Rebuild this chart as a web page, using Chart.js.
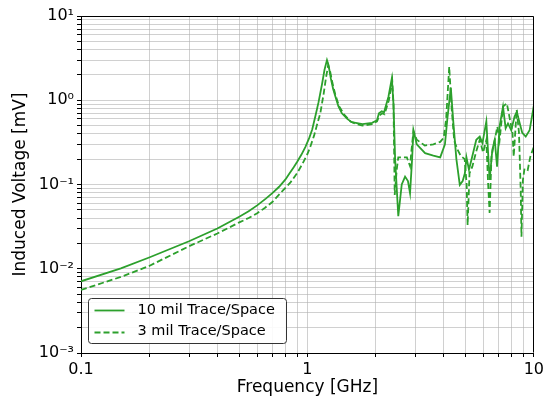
<!DOCTYPE html>
<html>
<head>
<meta charset="utf-8">
<script src="https://cdn.jsdelivr.net/npm/chart.js@4.4.1/dist/chart.umd.min.js"></script>
<style>
html,body{margin:0;padding:0;background:#fff;}
canvas{display:block;}
</style>
</head>
<body>
<canvas id="c" width="547" height="401"></canvas>
<script>
// ---- data ----
const seriesLabels = ['10 mil Trace/Space', '3 mil Trace/Space'];

const freqSolid = [0.1,0.15,0.2,0.3,0.4,0.5,0.55,0.6,0.655,0.7,0.75,0.8,0.83,0.87,0.9,0.94,0.98,1.02,1.05,1.086,1.12,1.16,1.19,1.22,1.24,1.27,1.30,1.33,1.37,1.42,1.5,1.57,1.75,1.93,2.03,2.07,2.13,2.18,2.28,2.36,2.40,2.44,2.52,2.61,2.70,2.78,2.84,2.90,2.94,3.04,3.31,3.6,3.86,4.05,4.15,4.3,4.41,4.55,4.71,4.85,4.96,5.04,5.17,5.30,5.57,5.77,5.93,6.17,6.38,6.56,6.72,6.88,7.06,7.31,7.51,7.69,7.95,8.22,8.42,8.51,8.89,9.21,9.58,10];
const voltSolid = [0.0071,0.0101,0.0136,0.0212,0.0300,0.0415,0.048,0.0565,0.068,0.079,0.094,0.115,0.133,0.16,0.185,0.225,0.28,0.36,0.45,0.66,0.95,1.55,2.3,3.0,2.6,1.8,1.35,1.1,0.85,0.70,0.60,0.55,0.52,0.54,0.58,0.70,0.74,0.72,1.10,1.82,0.9,0.2,0.042,0.10,0.124,0.11,0.079,0.2,0.44,0.30,0.235,0.22,0.21,0.30,0.6,1.4,0.55,0.2,0.099,0.11,0.136,0.21,0.15,0.195,0.34,0.37,0.31,0.56,0.113,0.26,0.34,0.163,0.49,0.84,0.465,0.53,0.44,0.64,0.73,0.64,0.41,0.37,0.44,0.86];

const freqDashed = [0.1,0.15,0.2,0.3,0.4,0.5,0.55,0.6,0.65,0.7,0.724,0.78,0.84,0.9,0.95,1.0,1.03,1.07,1.10,1.14,1.18,1.21,1.235,1.26,1.29,1.33,1.38,1.45,1.55,1.65,1.75,1.93,2.03,2.08,2.14,2.19,2.29,2.37,2.40,2.43,2.48,2.52,2.60,2.75,2.84,2.88,2.94,3.04,3.3,3.6,3.86,4.0,4.1,4.23,4.33,4.45,4.6,4.75,4.95,5.05,5.1,5.2,5.35,5.55,5.77,5.97,6.17,6.28,6.38,6.5,6.72,6.9,7.06,7.31,7.6,7.8,8.05,8.15,8.4,8.6,8.75,8.82,8.95,9.1,9.4,9.65,10];
const voltDashed = [0.0056,0.0080,0.0108,0.0185,0.0262,0.0355,0.040,0.0455,0.053,0.062,0.0686,0.085,0.105,0.136,0.175,0.23,0.281,0.38,0.50,0.70,1.2,1.9,2.6,2.2,1.6,1.15,0.85,0.68,0.56,0.52,0.50,0.52,0.56,0.66,0.70,0.68,1.0,1.7,0.9,0.075,0.15,0.21,0.21,0.21,0.165,0.25,0.43,0.34,0.29,0.30,0.32,0.36,0.6,2.5,0.84,0.33,0.26,0.22,0.2,0.1,0.033,0.136,0.163,0.24,0.34,0.24,0.337,0.105,0.046,0.214,0.337,0.485,0.337,0.84,0.92,0.64,0.41,0.214,0.77,0.41,0.087,0.024,0.113,0.155,0.149,0.214,0.28];

const xDecades = [0.1, 1, 10];
const xTickLabels = ['0.1', '1', '10'];
const yDecades = [0.001, 0.01, 0.1, 1, 10];
const yTickLabels = ['10\u207B\u00B3', '10\u207B\u00B2', '10\u207B\u00B9', '10\u2070', '10\u00B9'];

// ---- helpers ----
function logTicks(decades) {
  const out = [];
  for (let i = 0; i < decades.length; i++) {
    const d = decades[i];
    out.push(d);
    if (i < decades.length - 1) {
      for (let k = 2; k <= 9; k++) out.push(Number((k * d).toPrecision(6)));
    }
  }
  return out;
}
function labelFor(decades, labels, v) {
  for (let i = 0; i < decades.length; i++) {
    if (Math.abs(v / decades[i] - 1) < 1e-6) return labels[i];
  }
  return '';
}
const toPts = (xs, ys) => xs.map((x, i) => ({x: x, y: ys[i]}));

const GREEN = '#2ca02c';
const GRID = 'rgba(176,176,176,0.6)';
const FONT = 'DejaVu Sans';

const framePlugin = {
  id: 'frameLegend',
  afterDraw(chart) {
    const ctx = chart.ctx;
    const a = chart.chartArea;
    ctx.save();
    ctx.strokeStyle = '#000';
    ctx.lineWidth = 1;
    const L = Math.round(a.left) + 0.5, R = Math.round(a.right) - 0.5;
    const T = Math.round(a.top) + 0.5, B = Math.round(a.bottom) - 0.5;
    ctx.beginPath();
    ctx.moveTo(L, T); ctx.lineTo(R, T); ctx.lineTo(R, B);
    ctx.stroke();

    // legend box (lower left)
    const bw = 198, bh = 45;
    const bx = Math.round(a.left) + 7.5, by = Math.round(a.bottom) - 9.5 - bh;
    const r = 3;
    ctx.beginPath();
    ctx.moveTo(bx + r, by);
    ctx.lineTo(bx + bw - r, by); ctx.arcTo(bx + bw, by, bx + bw, by + r, r);
    ctx.lineTo(bx + bw, by + bh - r); ctx.arcTo(bx + bw, by + bh, bx + bw - r, by + bh, r);
    ctx.lineTo(bx + r, by + bh); ctx.arcTo(bx, by + bh, bx, by + bh - r, r);
    ctx.lineTo(bx, by + r); ctx.arcTo(bx, by, bx + r, by, r);
    ctx.closePath();
    ctx.fillStyle = 'rgba(255,255,255,0.9)';
    ctx.fill();
    ctx.strokeStyle = '#333';
    ctx.stroke();

    const rows = [by + 11.7, by + 33];
    chart.data.datasets.forEach((ds, i) => {
      const y = Math.round(rows[i]) + 0.5;
      ctx.beginPath();
      ctx.setLineDash(ds.borderDash || []);
      ctx.strokeStyle = ds.borderColor;
      ctx.lineWidth = ds.borderWidth;
      ctx.moveTo(bx + 6, y); ctx.lineTo(bx + 36, y);
      ctx.stroke();
      ctx.setLineDash([]);
      ctx.fillStyle = '#000';
      ctx.font = '14.5px "' + FONT + '"';
      ctx.textBaseline = 'middle';
      ctx.textAlign = 'left';
      ctx.fillText(ds.label, bx + 49, rows[i]);
    });
    ctx.restore();
  }
};

new Chart(document.getElementById('c'), {
  type: 'line',
  data: {
    datasets: [
      {label: seriesLabels[0], data: toPts(freqSolid, voltSolid), borderColor: GREEN, borderWidth: 1.8, pointRadius: 0, tension: 0, fill: false},
      {label: seriesLabels[1], data: toPts(freqDashed, voltDashed), borderColor: GREEN, borderWidth: 1.8, borderDash: [6, 3], pointRadius: 0, tension: 0, fill: false}
    ]
  },
  options: {
    responsive: false,
    animation: false,
    devicePixelRatio: 1,
    layout: {padding: {top: 16, right: 11, left: 0, bottom: 0}},
    plugins: {legend: {display: false}, tooltip: {enabled: false}},
    scales: {
      x: {
        type: 'logarithmic', min: 0.1, max: 10,
        afterBuildTicks: s => { s.ticks = logTicks(xDecades).map(v => ({value: v})); },
        afterFit: s => { s.height = 48; },
        ticks: {
          autoSkip: false, maxRotation: 0, minRotation: 0, padding: 3, color: '#000',
          font: {family: FONT, size: 16},
          callback: v => labelFor(xDecades, xTickLabels, v)
        },
        grid: {color: GRID, lineWidth: 1, tickLength: 4, tickColor: '#000'},
        border: {display: true, color: '#000', width: 1},
        title: {display: true, text: 'Frequency [GHz]', color: '#000', font: {family: FONT, size: 17}, padding: {top: 0, bottom: 3}}
      },
      y: {
        type: 'logarithmic', min: 0.001, max: 10,
        afterBuildTicks: s => { s.ticks = logTicks(yDecades).map(v => ({value: v})); },
        afterFit: s => { s.width = 81; },
        ticks: {
          autoSkip: false, padding: 3, color: '#000',
          font: {family: FONT, size: 16},
          callback: v => labelFor(yDecades, yTickLabels, v)
        },
        grid: {color: GRID, lineWidth: 1, tickLength: 4, tickColor: '#000'},
        border: {display: true, color: '#000', width: 1},
        title: {display: true, text: 'Induced Voltage [mV]', color: '#000', font: {family: FONT, size: 17}, padding: {top: 10, bottom: 0}}
      }
    }
  },
  plugins: [framePlugin]
});
</script>
</body>
</html>
